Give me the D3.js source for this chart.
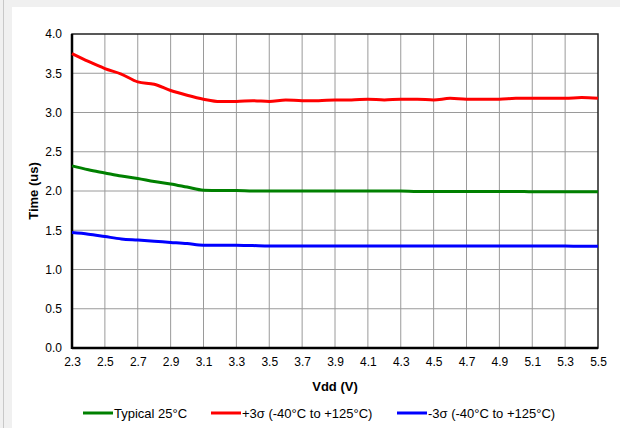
<!DOCTYPE html>
<html>
<head>
<meta charset="utf-8">
<script src="https://cdn.jsdelivr.net/npm/d3@7"></script>
<style>
  body { margin: 0; background: #f0f0f0; }
  svg { display: block; }
  .tick text { font-family: "Liberation Sans", Arial, sans-serif; font-size: 12px; fill: #000; }
</style>
</head>
<body>
<svg id="chart" width="620" height="428"></svg>
<script>
	/* ---------------------------------
		Data
	------------------------------------*/

	// supply voltage, one point every 0.1 V
	var vdd = [2.3, 2.4, 2.5, 2.6, 2.7, 2.8, 2.9, 3.0, 3.1, 3.2, 3.3, 3.4, 3.5, 3.6, 3.7, 3.8,
		3.9, 4.0, 4.1, 4.2, 4.3, 4.4, 4.5, 4.6, 4.7, 4.8, 4.9, 5.0, 5.1, 5.2, 5.3, 5.4, 5.5];

	var typical = [2.32, 2.27, 2.23, 2.19, 2.16, 2.12, 2.09, 2.05, 2.01, 2.005, 2.005, 2.00, 2.00, 2.00, 2.00, 2.00,
		2.00, 2.00, 2.00, 2.00, 2.00, 1.995, 1.995, 1.995, 1.995, 1.995, 1.995, 1.995, 1.99, 1.99, 1.99, 1.99, 1.99];

	var plus3s = [3.75, 3.65, 3.56, 3.49, 3.39, 3.36, 3.28, 3.22, 3.17, 3.14, 3.14, 3.15, 3.14, 3.16, 3.15, 3.15,
		3.16, 3.16, 3.17, 3.16, 3.17, 3.17, 3.16, 3.18, 3.17, 3.17, 3.17, 3.18, 3.18, 3.18, 3.18, 3.19, 3.18];

	var minus3s = [1.47, 1.45, 1.42, 1.39, 1.375, 1.36, 1.345, 1.33, 1.31, 1.31, 1.31, 1.305, 1.30, 1.30, 1.30, 1.30,
		1.30, 1.30, 1.30, 1.30, 1.30, 1.30, 1.30, 1.30, 1.30, 1.30, 1.30, 1.30, 1.30, 1.30, 1.30, 1.295, 1.295];

	var xTicks = [2.3, 2.5, 2.7, 2.9, 3.1, 3.3, 3.5, 3.7, 3.9, 4.1, 4.3, 4.5, 4.7, 4.9, 5.1, 5.3, 5.5];
	var yTicks = [0, 0.5, 1.0, 1.5, 2.0, 2.5, 3.0, 3.5, 4.0];

	var seriesNames = ["Typical 25°C", "+3σ (-40°C to +125°C)", "-3σ (-40°C to +125°C)"];
	var seriesColors = ["#008000", "#ff0000", "#0000ff"];
	var seriesValues = [typical, plus3s, minus3s];

	/* ---------------------------------
		Setup
	------------------------------------*/

	var svg = d3.select("#chart");
	var pLeft = 72, pRight = 598, pTop = 34, pBottom = 348;

	// page frame: grey strip on the left/top, white panel
	svg.append("rect").attr("x", 0).attr("y", 0).attr("width", 620).attr("height", 428).attr("fill", "#f0f0f0");
	svg.append("line").attr("x1", 3.5).attr("x2", 3.5).attr("y1", 0).attr("y2", 428)
		.attr("stroke", "#c8c8c8").attr("stroke-width", 1);
	svg.append("rect").attr("x", 12).attr("y", 7).attr("width", 608).attr("height", 421).attr("fill", "#fff");

	var xScale = d3.scaleLinear().domain([2.3, 5.5]).range([pLeft, pRight]);
	var yScale = d3.scaleLinear().domain([0, 4]).range([pBottom, pTop]);

	// grid at every tick
	svg.append("g").selectAll("line").data(xTicks.slice(1, -1)).enter().append("line")
		.attr("x1", function(d) { return xScale(d); })
		.attr("x2", function(d) { return xScale(d); })
		.attr("y1", pTop).attr("y2", pBottom)
		.attr("stroke", "#9a9a9a").attr("stroke-width", 1);

	svg.append("g").selectAll("line").data(yTicks.slice(1, -1)).enter().append("line")
		.attr("x1", pLeft).attr("x2", pRight)
		.attr("y1", function(d) { return yScale(d); })
		.attr("y2", function(d) { return yScale(d); })
		.attr("stroke", "#9a9a9a").attr("stroke-width", 1);

	// plot frame
	svg.append("rect").attr("x", pLeft).attr("y", pTop)
		.attr("width", pRight - pLeft).attr("height", pBottom - pTop)
		.attr("fill", "none").attr("stroke", "#222").attr("stroke-width", 1.5);

	// axes
	var xAxis = d3.axisBottom(xScale).tickValues(xTicks).tickSize(0).tickPadding(9)
		.tickFormat(d3.format(".1f"));
	var yAxis = d3.axisLeft(yScale).tickValues(yTicks).tickSize(0).tickPadding(10)
		.tickFormat(d3.format(".1f"));

	svg.append("g").attr("transform", "translate(0," + pBottom + ")").call(xAxis)
		.call(function(g) { g.select(".domain").remove(); });
	svg.append("g").attr("transform", "translate(" + pLeft + ",0)").call(yAxis)
		.call(function(g) { g.select(".domain").remove(); });

	svg.append("line").attr("x1", pLeft).attr("x2", pLeft).attr("y1", pTop).attr("y2", pBottom + 1)
		.attr("stroke", "#000").attr("stroke-width", 2.5);
	svg.append("line").attr("x1", pLeft).attr("x2", pRight).attr("y1", pBottom).attr("y2", pBottom)
		.attr("stroke", "#000").attr("stroke-width", 2.5);

	// axis titles
	svg.append("text").attr("x", (pLeft + pRight) / 2).attr("y", 391)
		.attr("text-anchor", "middle")
		.attr("font-family", "Liberation Sans, Arial, sans-serif")
		.attr("font-size", 13).attr("font-weight", "bold")
		.text("Vdd (V)");

	svg.append("text")
		.attr("transform", "translate(38," + ((pTop + pBottom) / 2) + ") rotate(-90)")
		.attr("text-anchor", "middle")
		.attr("font-family", "Liberation Sans, Arial, sans-serif")
		.attr("font-size", 13).attr("font-weight", "bold")
		.text("Time (us)");

	/* ---------------------------------
		Lines
	------------------------------------*/

	var line = d3.line()
		.x(function(d, i) { return xScale(vdd[i]); })
		.y(function(d) { return yScale(d); })
		.curve(d3.curveMonotoneX);

	seriesValues.forEach(function(vals, k) {
		svg.append("path")
			.datum(vals)
			.attr("fill", "none")
			.attr("stroke", seriesColors[k])
			.attr("stroke-width", 3)
			.attr("stroke-linejoin", "round")
			.attr("d", line);
	});

	/* ---------------------------------
		Legend
	------------------------------------*/

	var legendX = [83, 211, 397];
	var legend = svg.append("g");
	seriesNames.forEach(function(name, k) {
		legend.append("line")
			.attr("x1", legendX[k]).attr("x2", legendX[k] + 30)
			.attr("y1", 413).attr("y2", 413)
			.attr("stroke", seriesColors[k]).attr("stroke-width", 3);
		legend.append("text")
			.attr("x", legendX[k] + 31).attr("y", 417.5)
			.attr("font-family", "Liberation Sans, Arial, sans-serif")
			.attr("font-size", 13)
			.text(name);
	});
</script>
</body>
</html>
